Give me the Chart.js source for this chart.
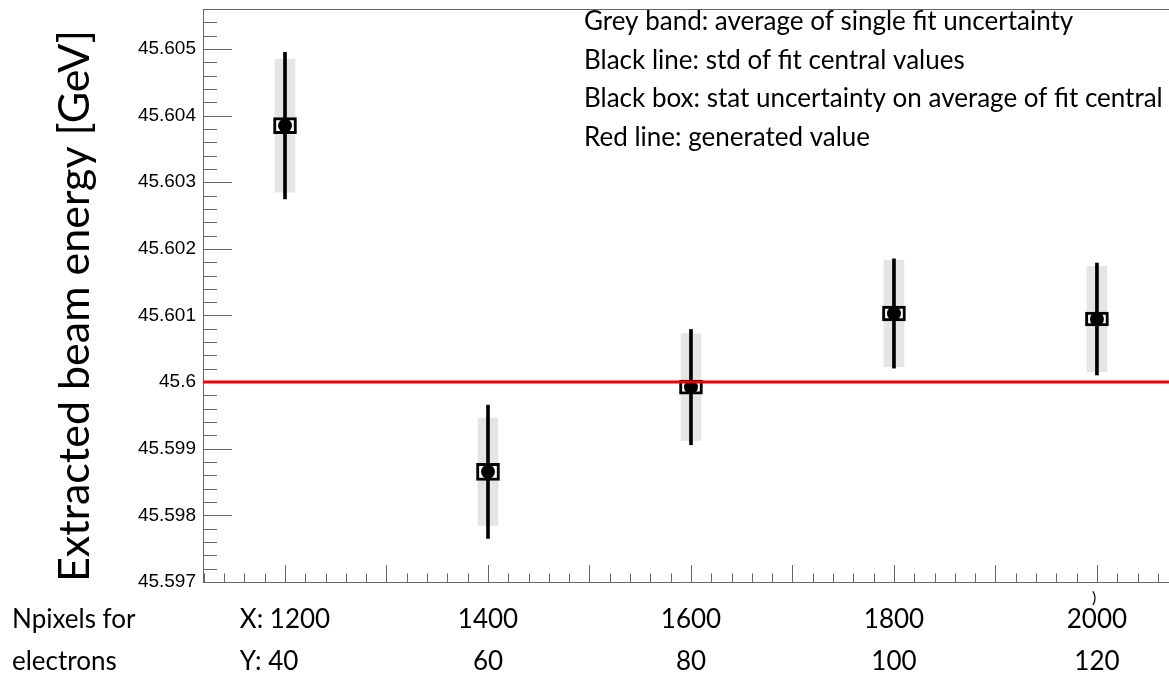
<!DOCTYPE html>
<html>
<head>
<meta charset="utf-8">
<script src="https://cdn.jsdelivr.net/npm/chart.js@4.4.1/dist/chart.umd.min.js"></script>
<style>
  html, body { margin: 0; padding: 0; background: #fff; }
  #caja { position: relative; width: 1169px; height: 674px; }
</style>
</head>
<body>
<div id="caja"><canvas id="myChart" width="1169" height="674"></canvas></div>
<script>
// Valores
const npixelsX = [1200, 1400, 1600, 1800, 2000];
const npixelsY = [40, 60, 80, 100, 120];
const energia = [45.60385, 45.598654, 45.599925, 45.60103, 45.600947];
const bandaGris = [0.001, 0.000805, 0.0008, 0.0008, 0.00079];          // incertidumbre media de los ajustes
const lineaNegra = [0.0011, 0.001, 0.000865, 0.00082, 0.00084];        // std de los valores centrales
const cajaNegra = [0.00012, 0.000128, 0.000105, 0.000113, 0.000105];   // incertidumbre estadística
const valorGenerado = 45.6;
const yTicks = [45.597, 45.598, 45.599, 45.6, 45.601, 45.602, 45.603, 45.604, 45.605];
const notas = [
    'Grey band: average of single fit uncertainty',
    'Black line: std of fit central values',
    'Black box: stat uncertainty on average of fit central values',
    'Red line: generated value'
];
const etiquetaIzq = ['Npixels for', 'electrons'];

// Rango de los ejes
const xMin = 1119.2, xMax = 2071;
const yMin = 45.597, yMax = 45.6056;

const fuenteTexto = 'Lato';

// Quitar el relleno automático que Chart.js añade por las etiquetas
function sinRelleno(scale) {
    scale.paddingTop = 0;
    scale.paddingBottom = 0;
    scale.paddingLeft = 0;
    scale.paddingRight = 0;
}

// Marcas hacia dentro y marco, estilo ROOT
const marcoRoot = {
    id: 'marcoRoot',
    beforeDatasetsDraw(chart) {
        const { ctx, chartArea: a, scales: { x, y } } = chart;
        ctx.save();
        ctx.strokeStyle = '#666';
        ctx.lineWidth = 1;
        ctx.beginPath();
        ctx.moveTo(a.right, a.top + 0.5);
        ctx.lineTo(a.left + 0.5, a.top + 0.5);
        ctx.lineTo(a.left + 0.5, a.bottom + 0.5);
        ctx.lineTo(a.right, a.bottom + 0.5);
        for (let k = 0; ; k++) {
            const v = yMin + k * 0.0002;
            if (v > yMax + 1e-9) break;
            const py = Math.round(y.getPixelForValue(v)) + 0.5;
            ctx.moveTo(a.left, py);
            ctx.lineTo(a.left + (k % 5 === 0 ? 29 : 14), py);
        }
        for (let v = Math.ceil(xMin / 20) * 20; v <= xMax; v += 20) {
            const px = Math.round(x.getPixelForValue(v)) + 0.5;
            ctx.moveTo(px, a.bottom);
            ctx.lineTo(px, a.bottom - (v % 100 === 0 ? 17 : 8.5));
        }
        ctx.stroke();
        ctx.restore();
    }
};

// Textos superpuestos: notas y etiquetas del eje X
const textos = {
    id: 'textos',
    afterDraw(chart) {
        const { ctx, scales: { x } } = chart;
        ctx.save();
        ctx.fillStyle = '#000';
        ctx.textBaseline = 'middle';
        ctx.font = `26px ${fuenteTexto}`;
        ctx.textAlign = 'left';
        notas.forEach((t, i) => ctx.fillText(t, 584, 22 + i * 38.5));

        ctx.fillText(etiquetaIzq[0], 12, 620);
        ctx.fillText(etiquetaIzq[1], 12, 662);

        npixelsX.forEach((v, i) => {
            const px = x.getPixelForValue(v);
            const fila1 = i === 0 ? 'X: ' + v : String(v);
            const fila2 = i === 0 ? 'Y: ' + npixelsY[i] : String(npixelsY[i]);
            const w1 = ctx.measureText(fila1).width;
            ctx.textAlign = 'center';
            ctx.fillText(fila1, px, 620);
            if (i === 0) {
                ctx.textAlign = 'left';
                ctx.fillText(fila2, px - w1 / 2, 662);
            } else {
                ctx.fillText(fila2, px, 662);
            }
        });
        ctx.font = `16px ${fuenteTexto}`;
        ctx.textAlign = 'left';
        ctx.fillText(')', 1092, 598);
        ctx.restore();
    }
};

const ctx = document.getElementById('myChart').getContext('2d');

new Chart(ctx, {
    type: 'bar',
    data: {
        datasets: [
            {
                type: 'line',
                data: [{ x: xMin, y: valorGenerado }, { x: xMax, y: valorGenerado }],
                borderColor: '#ee0000',
                borderWidth: 3,
                pointRadius: 0,
                order: 0
            },
            {
                type: 'scatter',
                data: npixelsX.map((v, i) => ({ x: v, y: energia[i] })),
                backgroundColor: '#000',
                borderWidth: 0,
                pointRadius: 7,
                order: 1
            },
            {
                data: npixelsX.map((v, i) => ({ x: v, y: [energia[i] - cajaNegra[i], energia[i] + cajaNegra[i]] })),
                backgroundColor: '#fff',
                borderColor: '#000',
                borderWidth: 3,
                borderSkipped: false,
                barThickness: 23,
                grouped: false,
                order: 2
            },
            {
                data: npixelsX.map((v, i) => ({ x: v, y: [energia[i] - lineaNegra[i], energia[i] + lineaNegra[i]] })),
                backgroundColor: '#000',
                borderWidth: 0,
                barThickness: 3,
                grouped: false,
                order: 3
            },
            {
                data: npixelsX.map((v, i) => ({ x: v, y: [energia[i] - bandaGris[i], energia[i] + bandaGris[i]] })),
                backgroundColor: '#e5e5e5',
                borderWidth: 0,
                barThickness: 20,
                grouped: false,
                order: 4
            }
        ]
    },
    options: {
        responsive: false,
        animation: false,
        layout: { autoPadding: false, padding: { top: 9, left: 0, right: 0, bottom: 0 } },
        plugins: { legend: { display: false }, tooltip: { enabled: false } },
        scales: {
            x: {
                type: 'linear',
                min: xMin,
                max: xMax,
                offset: false,
                grid: { display: false },
                border: { display: false },
                ticks: { display: false },
                afterFit(scale) { scale.height = 92; sinRelleno(scale); }
            },
            y: {
                type: 'linear',
                min: yMin,
                max: yMax,
                grid: { display: false, drawTicks: false },
                border: { display: false },
                afterBuildTicks(scale) { scale.ticks = yTicks.map(v => ({ value: v })); },
                afterFit(scale) { scale.width = 203; sinRelleno(scale); },
                ticks: {
                    padding: 7,
                    color: '#000',
                    font: { family: 'Liberation Sans', size: 19 },
                    callback: v => String(Number(v.toFixed(3)))
                },
                title: {
                    display: true,
                    text: 'Extracted beam energy [GeV]',
                    align: 'start',
                    color: '#000',
                    font: { family: fuenteTexto, size: 43 },
                    padding: { top: 49, bottom: 0 }
                }
            }
        }
    },
    plugins: [marcoRoot, textos]
});
</script>
</body>
</html>
